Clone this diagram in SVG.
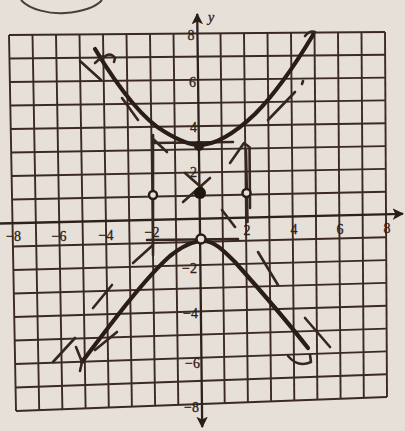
<svg xmlns="http://www.w3.org/2000/svg" width="405" height="431" viewBox="0 0 405 431">
<style>
.grid line{stroke:#3a2a23;stroke-width:1.9;}
.axis{stroke:#2e211c;stroke-width:2.3;fill:none;}
.ink{stroke:#2a1c17;stroke-width:4.2;fill:none;stroke-linecap:round;stroke-linejoin:round;}
.mark{stroke:#35261f;stroke-width:2.6;fill:none;stroke-linecap:round;stroke-linejoin:round;}
.lbl{font-family:"Liberation Serif","DejaVu Serif",serif;font-size:14px;fill:#2e201b;stroke:#2e201b;stroke-width:0.3;}
.xl{text-anchor:middle;}
.yl{text-anchor:end;}
</style>
<defs>
<marker id="ah" viewBox="0 0 10 10" refX="9" refY="5" markerWidth="5" markerHeight="5" orient="auto" markerUnits="strokeWidth">
<path d="M0,0 L10,5 L0,10 L2.5,5 Z" fill="#2a1c17"/>
</marker>
</defs>
<rect x="0" y="0" width="405" height="431" fill="#e7e0d9"/>
<path d="M21,0 C30,10 50,14 65,13 C82,12 96,7 102,0" stroke="#4a3e39" stroke-width="2" fill="none"/>
<g id="grid" class="grid">
<line x1="9" y1="35" x2="16" y2="411"/>
<line x1="32.5" y1="34.8" x2="39.2" y2="410.1"/>
<line x1="56" y1="34.6" x2="62.4" y2="409.3"/>
<line x1="79.5" y1="34.4" x2="85.6" y2="408.4"/>
<line x1="103" y1="34.3" x2="108.8" y2="407.5"/>
<line x1="126.5" y1="34.1" x2="131.9" y2="406.6"/>
<line x1="150" y1="33.9" x2="155.1" y2="405.8"/>
<line x1="173.5" y1="33.7" x2="178.3" y2="404.9"/>
<line x1="220.5" y1="33.3" x2="224.7" y2="403.1"/>
<line x1="244" y1="33.1" x2="247.9" y2="402.3"/>
<line x1="267.5" y1="32.9" x2="271.1" y2="401.4"/>
<line x1="291" y1="32.8" x2="294.3" y2="400.5"/>
<line x1="314.5" y1="32.6" x2="317.4" y2="399.6"/>
<line x1="338" y1="32.4" x2="340.6" y2="398.8"/>
<line x1="361.5" y1="32.2" x2="363.8" y2="397.9"/>
<line x1="385" y1="32" x2="387" y2="397"/>
<line x1="9" y1="35" x2="385" y2="32"/>
<line x1="9.4" y1="58.5" x2="385.1" y2="54.8"/>
<line x1="9.9" y1="82" x2="385.3" y2="77.6"/>
<line x1="10.3" y1="105.5" x2="385.4" y2="100.4"/>
<line x1="10.8" y1="129" x2="385.5" y2="123.3"/>
<line x1="11.2" y1="152.5" x2="385.6" y2="146.1"/>
<line x1="11.6" y1="176" x2="385.8" y2="168.9"/>
<line x1="12.1" y1="199.5" x2="385.9" y2="191.7"/>
<line x1="12.9" y1="246.5" x2="386.1" y2="237.3"/>
<line x1="13.4" y1="270" x2="386.3" y2="260.1"/>
<line x1="13.8" y1="293.5" x2="386.4" y2="282.9"/>
<line x1="14.3" y1="317" x2="386.5" y2="305.8"/>
<line x1="14.7" y1="340.5" x2="386.6" y2="328.6"/>
<line x1="15.1" y1="364" x2="386.8" y2="351.4"/>
<line x1="15.6" y1="387.5" x2="386.9" y2="374.2"/>
<line x1="16" y1="411" x2="387" y2="397"/>
</g>
<g id="axes">
<line class="axis" x1="0" y1="223.5" x2="403" y2="213.8" marker-end="url(#ah)"/>
<line class="axis" x1="199.8" y1="215" x2="197.2" y2="14" marker-end="url(#ah)"/>
<line class="axis" x1="199.8" y1="215" x2="202.2" y2="427" marker-end="url(#ah)"/>
<text x="208" y="22" class="lbl" font-style="italic" font-size="15">y</text>
</g>
<g id="x-labels" class="lbl xl">
<text x="13.5" y="241">−8</text>
<text x="59" y="241">−6</text>
<text x="106" y="240">−4</text>
<text x="152" y="237">−2</text>
<text x="247" y="235">2</text>
<text x="294" y="234">4</text>
<text x="340" y="234">6</text>
<text x="387" y="233">8</text>
</g>
<g id="y-labels" class="lbl yl">
<text x="194.5" y="40">8</text>
<text x="196" y="87">6</text>
<text x="197" y="132">4</text>
<text x="197" y="177">2</text>
<text x="197" y="273">−2</text>
<text x="198" y="318">−4</text>
<text x="200" y="368">−6</text>
<text x="199" y="412">−8</text>
</g>
<g id="box" class="mark">
<path d="M152,143 L233,142"/>
<path d="M147,240 L238,239"/>
<path d="M153,135 L153,255"/>
<path d="M246,150 L247.5,222"/>
<path d="M249.5,147 L250,208"/>
</g>
<g id="asymptotes" class="mark">
<path d="M80,61 L101,80"/>
<path d="M122,98 L138,120"/>
<path d="M152,138 L167,152"/>
<path d="M268,120 L295,92"/>
<path d="M302,84 L303,81"/>
<path d="M230,163 L244,143 L248,146"/>
<path d="M183,202 L210,178"/>
<path d="M185,173 L202,188"/>
<path d="M222,210 L235,227"/>
<path d="M133,263 L153,245"/>
<path d="M93,308 L112,285"/>
<path d="M53,362 L75,338"/>
<path d="M95,350 L117,332"/>
<path d="M258,252 L278,285"/>
<path d="M305,318 L330,347"/>
</g>
<g id="upper-branch">
<path class="ink" d="M95,49 C115,82 140,118 165,132 C180,141 190,145 199,145 C215,145 235,133 255,114 C275,94 295,65 313,35"/>
<path class="mark" d="M95,63 L103,56 M103,58 Q110,51 115,58 L114,62"/>
<path class="mark" d="M305,36 Q310,30 315,32"/>
</g>
<g id="lower-branch">
<path class="ink" d="M82,362 C110,325 145,278 170,256 C185,244 195,241 203,241 C214,241 222,249 235,262 C260,290 290,325 308,348"/>
<path class="mark" d="M76,347 L82,362 L80,371"/>
<path class="mark" d="M288,356 Q298,368 311,362 L310,355"/>
</g>
<g id="points">
<circle cx="199" cy="146" r="5" fill="#2a1c17"/>
<circle cx="200" cy="193" r="6" fill="#1f1511"/>
<circle cx="153" cy="195" r="4" fill="#e7e0d9" stroke="#2a1c17" stroke-width="2.5"/>
<circle cx="246.5" cy="193" r="4" fill="#e7e0d9" stroke="#2a1c17" stroke-width="2.5"/>
<circle cx="201" cy="239" r="4.5" fill="#e7e0d9" stroke="#2a1c17" stroke-width="2.5"/>
</g>
</svg>
